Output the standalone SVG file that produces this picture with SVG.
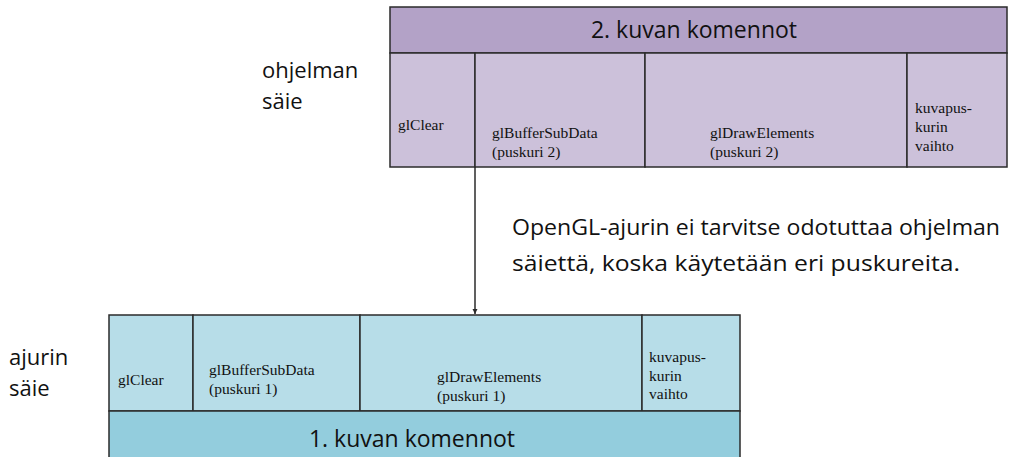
<svg xmlns="http://www.w3.org/2000/svg" width="1011" height="457" viewBox="0 0 1011 457">
  <defs>
    <style>
      .edge { stroke: #2b2b2b; stroke-width: 1.5; }
      .big { font-family: "Open Sans", "Liberation Sans", sans-serif; font-size: 23px; fill: #111; }
      .lbl { font-family: "Open Sans", "Liberation Sans", sans-serif; font-size: 22px; fill: #111; }
      .note { font-family: "Open Sans", "Liberation Sans", sans-serif; font-size: 22px; fill: #111; }
      .cell { font-family: "Liberation Serif", "DejaVu Serif", serif; font-size: 15.5px; fill: #111; }
      .pH { fill: #b3a2c7; }
      .pC { fill: #ccc1da; }
      .bC { fill: #b7dde8; }
      .bH { fill: #93cddd; }
    </style>
    <marker id="arrow" viewBox="0 0 10 10" refX="10" refY="5" markerWidth="5" markerHeight="6" orient="auto" markerUnits="userSpaceOnUse">
      <path d="M0,0 L10,5 L0,10 z" fill="#2b2b2b"/>
    </marker>
  </defs>

  <rect width="1011" height="457" fill="#ffffff"/>

  <!-- side labels -->
  <g id="label-ohjelman">
    <text class="lbl" x="262" y="78">ohjelman</text>
    <text class="lbl" x="262" y="109">säie</text>
  </g>
  <g id="label-ajurin">
    <text class="lbl" x="9" y="365">ajurin</text>
    <text class="lbl" x="9" y="396">säie</text>
  </g>

  <!-- top block: program thread -->
  <g id="frame2-header">
    <rect class="pH edge" x="390" y="7" width="617" height="46"/>
    <text class="big" x="694" y="38" text-anchor="middle">2. kuvan komennot</text>
  </g>
  <g id="frame2-glClear">
    <rect class="pC edge" x="390" y="53" width="85" height="114"/>
    <text class="cell" x="398" y="130">glClear</text>
  </g>
  <g id="frame2-glBufferSubData">
    <rect class="pC edge" x="475" y="53" width="170" height="114"/>
    <text class="cell" x="492" y="138">glBufferSubData</text>
    <text class="cell" x="492" y="157">(puskuri 2)</text>
  </g>
  <g id="frame2-glDrawElements">
    <rect class="pC edge" x="645" y="53" width="262" height="114"/>
    <text class="cell" x="710" y="138">glDrawElements</text>
    <text class="cell" x="710" y="157">(puskuri 2)</text>
  </g>
  <g id="frame2-swap">
    <rect class="pC edge" x="907" y="53" width="100" height="114"/>
    <text class="cell" x="915" y="113">kuvapus-</text>
    <text class="cell" x="915" y="132">kurin</text>
    <text class="cell" x="915" y="151">vaihto</text>
  </g>

  <!-- bottom block: driver thread -->
  <g id="frame1-glClear">
    <rect class="bC edge" x="109" y="315" width="84" height="96"/>
    <text class="cell" x="118" y="385">glClear</text>
  </g>
  <g id="frame1-glBufferSubData">
    <rect class="bC edge" x="193" y="315" width="167" height="96"/>
    <text class="cell" x="209" y="375">glBufferSubData</text>
    <text class="cell" x="209" y="394">(puskuri 1)</text>
  </g>
  <g id="frame1-glDrawElements">
    <rect class="bC edge" x="360" y="315" width="282" height="96"/>
    <text class="cell" x="437" y="382">glDrawElements</text>
    <text class="cell" x="437" y="401">(puskuri 1)</text>
  </g>
  <g id="frame1-swap">
    <rect class="bC edge" x="642" y="315" width="98" height="96"/>
    <text class="cell" x="649" y="362">kuvapus-</text>
    <text class="cell" x="649" y="381">kurin</text>
    <text class="cell" x="649" y="399">vaihto</text>
  </g>
  <g id="frame1-header">
    <rect class="bH edge" x="109" y="411" width="631" height="50"/>
    <text class="big" x="412" y="447" text-anchor="middle">1. kuvan komennot</text>
  </g>

  <!-- annotation -->
  <g id="note">
    <text class="note" x="512" y="235" textLength="488" lengthAdjust="spacingAndGlyphs">OpenGL-ajurin ei tarvitse odotuttaa ohjelman</text>
    <text class="note" x="512" y="271" textLength="448" lengthAdjust="spacingAndGlyphs">säiettä, koska käytetään eri puskureita.</text>
  </g>

  <!-- connectors -->
  <g id="connectors">
    <line class="edge" x1="475" y1="167" x2="475" y2="314" stroke-width="1.2" marker-end="url(#arrow)"/>
  </g>
</svg>
